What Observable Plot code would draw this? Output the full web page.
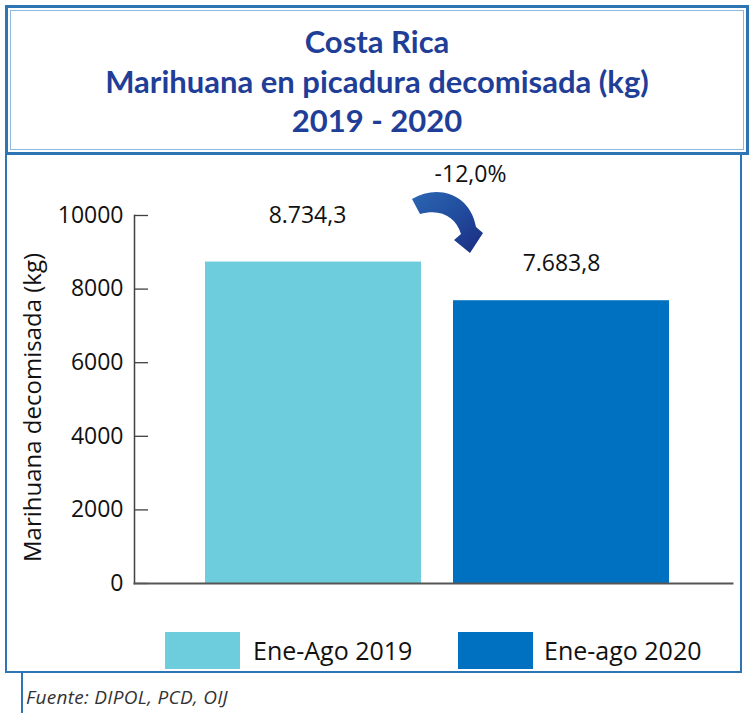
<!DOCTYPE html>
<html>
<head>
<meta charset="utf-8">
<script src="https://cdn.jsdelivr.net/npm/d3@7"></script>
<script src="https://cdn.jsdelivr.net/npm/@observablehq/plot@0.6"></script>
<style>
  html, body { margin: 0; padding: 0; background: #fff; }
  #page { position: relative; width: 754px; height: 713px; overflow: hidden; font-family: "Open Sans", sans-serif; }
  .abs { position: absolute; box-sizing: border-box; }
  #titlebox { left: 5px; top: 5px; width: 744px; height: 150px; border: 3px solid #2E75B6; }
  #titleinner { left: 2px; top: 2px; right: 2px; bottom: 2px; border: 1px solid #8DB9E2; }
  #title { left: 0; top: 22px; width: 754px; text-align: center; color: #1F3E98; font-family: Lato, sans-serif; font-weight: 700; font-size: 31px; line-height: 39.5px; }
  #chartbox { left: 5px; top: 152px; width: 737px; height: 521px; border: 2px solid #2E75B6; border-top: 3px solid #2E75B6; }
  #capline { left: 21px; top: 672px; width: 2px; height: 41px; background: #2E75B6; }
  #caption { left: 26px; top: 684px; font-style: italic; font-size: 19px; letter-spacing: 0.3px; color: #333; white-space: nowrap; }
  #chart { left: 0; top: 152px; }
  .sw { width: 75px; height: 37px; top: 632px; }
  .lg { top: 633px; font-size: 25px; color: #111; white-space: nowrap; line-height: 34px; }
</style>
</head>
<body>
<div id="page">
  <div id="chart" class="abs"></div>
  <div id="titlebox" class="abs"><div id="titleinner" class="abs"></div></div>
  <div id="chartbox" class="abs"></div>
  <div id="title" class="abs"></div>
  <div id="legend"></div>
  <div id="capline" class="abs"></div>
  <div id="caption" class="abs"></div>
</div>
<script>
const titleLines = ["Costa Rica", "Marihuana en picadura decomisada (kg)", "2019 - 2020"];
const categories = ["Ene-Ago 2019", "Ene-ago 2020"];
const values = [8734.3, 7683.8];
const colors = ["#6DCDDC", "#0070C0"];
const yTicks = [0, 2000, 4000, 6000, 8000, 10000];
const yLabel = "Marihuana decomisada (kg)";
const source = "Fuente: DIPOL, PCD, OIJ";

const es = d3.formatLocale({decimal: ",", thousands: ".", grouping: [3], currency: ["", ""], minus: "-"});
const fmtVal = es.format(",.1f");
const fmtPct = es.format(".1%");
const data = categories.map((c, i) => ({cat: c, value: values[i]}));
const change = values[1] / values[0] - 1;

document.getElementById("title").innerHTML = titleLines.map(t => `<div>${t}</div>`).join("");
document.getElementById("caption").textContent = source;

const legendSwatchLeft = [165, 458];
const legendTextLeft = [253, 544];
document.getElementById("legend").innerHTML = categories.map((c, i) =>
  `<div class="abs sw" style="left:${legendSwatchLeft[i]}px;background:${colors[i]}"></div>` +
  `<div class="abs lg" style="left:${legendTextLeft[i]}px">${c}</div>`).join("");

const chart = Plot.plot({
  width: 754,
  height: 520,
  marginTop: 63,
  marginBottom: 89,
  marginLeft: 134,
  marginRight: 22,
  style: {fontFamily: "Open Sans, sans-serif", background: "transparent", overflow: "visible", color: "#111"},
  x: {domain: categories, paddingInner: 0.131, paddingOuter: 0.269, align: 0.53, axis: null},
  y: {domain: [0, 10000], axis: null},
  color: {domain: categories, range: colors},
  marks: [
    Plot.barY(data, {x: "cat", y: "value", fill: "cat"}),
    Plot.axisY({ticks: yTicks, tickFormat: d => String(d), tickSize: -14, tickPadding: 25, fontSize: 23, stroke: "#404040", strokeWidth: 1.3, strokeOpacity: 1, fill: "#111", label: null}),
    Plot.frame({anchor: "left", stroke: "#404040", strokeWidth: 1.5}),
    Plot.frame({anchor: "bottom", stroke: "#555", strokeWidth: 2}),
    Plot.text([data[0]], {x: "cat", y: "value", text: d => fmtVal(d.value), dx: -6, dy: -46, lineAnchor: "middle", fontSize: 23, fill: "#111"}),
    Plot.text([data[1]], {x: "cat", y: "value", text: d => fmtVal(d.value), dy: -37, lineAnchor: "middle", fontSize: 23, fill: "#111"}),
    Plot.text([fmtPct(change)], {frameAnchor: "top", dx: 37, dy: -41, lineAnchor: "middle", fontSize: 23, fill: "#111"}),
    Plot.text([yLabel], {frameAnchor: "left", rotate: -90, textAnchor: "middle", dx: -101, dy: 8, lineAnchor: "middle", fontSize: 24, fill: "#111"})
  ]
});
document.getElementById("chart").appendChild(chart);

// curved arrow anchored to the bars via the chart's scales
const sx = chart.scale("x"), sy = chart.scale("y");
const ax = sx.apply(categories[0]) + sx.bandwidth;
const ay = sy.apply(10000);
const svg = d3.select(chart.tagName.toLowerCase() === "svg" ? chart : chart.querySelector("svg"));
const defs = svg.append("defs");
const grad = defs.append("linearGradient").attr("id", "arrowGrad").attr("x1", "0").attr("y1", "0").attr("x2", "1").attr("y2", "1");
grad.append("stop").attr("offset", "0").attr("stop-color", "#2B67B3");
grad.append("stop").attr("offset", "0.5").attr("stop-color", "#214C9E");
grad.append("stop").attr("offset", "1").attr("stop-color", "#1B2B80");
svg.append("path")
  .attr("transform", `translate(${ax},${ay})`)
  .attr("fill", "url(#arrowGrad)")
  .attr("d", "M-9,-16 C16,-31 49,-22 55,12 L62,18 L49,38 L33,25 L40,19 C35,2 20,-7 -1,-1 Z");
</script>
</body>
</html>
